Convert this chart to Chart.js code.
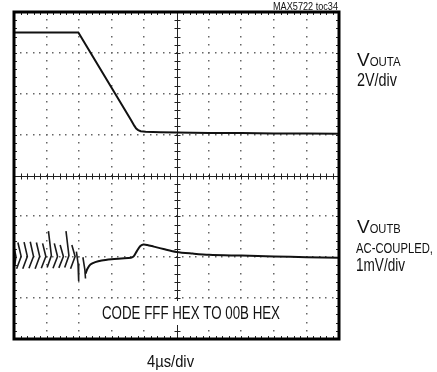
<!DOCTYPE html>
<html>
<head>
<meta charset="utf-8">
<script src="https://cdn.jsdelivr.net/npm/chart.js@4/dist/chart.umd.min.js"></script>
<style>
  html, body { margin: 0; padding: 0; background: #fff; }
  #wrap { width: 437px; height: 372px; }
</style>
</head>
<body>
<div id="wrap"><canvas id="scope" width="437" height="372"></canvas></div>
<script>
// time in divisions (4us/div), voltage in divisions from the bottom of the screen
var outaX = [0, 1.98, 3.6, 3.7, 3.76, 3.82, 3.9, 4.05, 4.5, 5, 6, 7, 8, 9, 10];
var outaY = [7.5, 7.5, 5.36, 5.22, 5.15, 5.11, 5.085, 5.07, 5.06, 5.05, 5.04, 5.04, 5.03, 5.03, 5.02];

// ringing on VOUTB while the code changes (null = gap between strokes)
var noiseX = [0.0, 0.06, 0.02, null,
  0.12, 0.22, 0.08, null,
  0.31, 0.41, 0.27, null,
  0.5, 0.6, 0.46, null,
  0.69, 0.79, 0.65, null,
  0.88, 0.98, 0.84, null,
  1.06, 1.15, 1.02, null,
  1.24, 1.34, 1.2, null,
  1.42, 1.52, 1.38, null,
  1.6, 1.69, 1.56, null,
  1.78, 1.88, 1.74, null,
  1.92, 1.97, 1.99, null,
  2.12, 2.18, 2.2];
var noiseY = [2.25, 2.02, 1.78, null,
  2.36, 2.02, 1.72, null,
  2.37, 2.02, 1.72, null,
  2.38, 2.02, 1.73, null,
  2.36, 2.02, 1.72, null,
  2.34, 2.02, 1.73, null,
  2.64, 2.04, 1.75, null,
  2.34, 2.02, 1.73, null,
  2.3, 2.02, 1.74, null,
  2.64, 2.04, 1.75, null,
  2.3, 2.02, 1.72, null,
  2.14, 1.85, 1.42, null,
  2.0, 1.7, 1.48];

var settleX = [2.2, 2.26, 2.35, 2.5, 2.7, 3.0, 3.3, 3.6, 3.68, 3.78, 3.88, 3.98, 4.1, 4.3, 4.6, 5.0, 5.5, 6.0, 7.0, 8.0, 9.0, 10.0];
var settleY = [1.6, 1.72, 1.82, 1.88, 1.92, 1.95, 1.97, 1.99, 2.02, 2.15, 2.27, 2.31, 2.3, 2.26, 2.2, 2.13, 2.09, 2.06, 2.04, 2.02, 2.0, 1.99];

function pts(xs, ys) {
  return xs.map(function (x, i) { return { x: x === null ? NaN : x, y: ys[i] === null ? NaN : ys[i] }; });
}

var NARROW = '"Liberation Sans Narrow", "Arial Narrow", "Liberation Sans", Arial, sans-serif';

// text drawn with a horizontal squeeze so it fits the width of the original lettering
function label(ctx, text, x, base, size, width) {
  ctx.save();
  ctx.font = size + 'px ' + NARROW;
  var w = ctx.measureText(text).width;
  var sx = width ? width / w : 1;
  ctx.translate(x, base);
  ctx.scale(sx, 1);
  ctx.fillStyle = '#111';
  ctx.textBaseline = 'alphabetic';
  ctx.fillText(text, 0, 0);
  ctx.restore();
  return w * sx;
}

var scopeScreen = {
  id: 'scopeScreen',
  beforeDatasetsDraw: function (chart) {
    var ctx = chart.ctx, xs = chart.scales.x, ys = chart.scales.y;
    var i, j, px, py;
    ctx.save();
    ctx.fillStyle = '#666';
    // dotted graticule
    for (j = 1; j < 8; j++) {
      if (j === 4) continue;
      py = Math.round(ys.getPixelForValue(j));
      for (i = 0; i <= 50; i++) {
        px = xs.getPixelForValue(i * 0.2);
        ctx.fillRect(Math.round(px) - 1, py - 1, 1.5, 1.5);
      }
    }
    for (i = 1; i < 10; i++) {
      if (i === 5) continue;
      px = Math.round(xs.getPixelForValue(i));
      for (j = 0; j <= 40; j++) {
        py = ys.getPixelForValue(j * 0.2);
        ctx.fillRect(px - 1, Math.round(py) - 1, 1.5, 1.5);
      }
    }
    // centre cross with minor ticks
    ctx.strokeStyle = '#222';
    ctx.lineWidth = 1;
    var cx = Math.round(xs.getPixelForValue(5)) + 0.5;
    var cy = Math.round(ys.getPixelForValue(4)) + 0.5;
    ctx.beginPath();
    ctx.moveTo(xs.left, cy); ctx.lineTo(xs.right, cy);
    ctx.moveTo(cx, ys.top); ctx.lineTo(cx, ys.bottom);
    for (i = 0; i <= 50; i++) {
      px = Math.round(xs.getPixelForValue(i * 0.2)) + 0.5;
      ctx.moveTo(px, cy - 3); ctx.lineTo(px, cy + 3);
      ctx.moveTo(px, ys.top); ctx.lineTo(px, ys.top + 3);
      ctx.moveTo(px, ys.bottom); ctx.lineTo(px, ys.bottom - 3);
    }
    for (j = 0; j <= 40; j++) {
      py = Math.round(ys.getPixelForValue(j * 0.2)) + 0.5;
      ctx.moveTo(cx - 3, py); ctx.lineTo(cx + 3, py);
      ctx.moveTo(xs.left, py); ctx.lineTo(xs.left + 3, py);
      ctx.moveTo(xs.right, py); ctx.lineTo(xs.right - 3, py);
    }
    ctx.stroke();
    // blank patch behind the caption
    ctx.fillStyle = '#fff';
    ctx.fillRect(99, 301, 184, 24);
    ctx.restore();
  },
  afterDatasetsDraw: function (chart) {
    var ctx = chart.ctx, a = chart.chartArea;
    ctx.save();
    ctx.strokeStyle = '#000';
    ctx.lineWidth = 3;
    ctx.strokeRect(a.left, a.top, a.right - a.left, a.bottom - a.top);
    ctx.restore();

    label(ctx, 'MAX5722 toc34', 273, 9.5, 10.5, 65);
    var w = label(ctx, 'V', 357, 65.7, 19, 0);
    label(ctx, 'OUTA', 357 + w, 65.7, 12.5, 31);
    label(ctx, '2V/div', 357, 86, 18, 40);
    w = label(ctx, 'V', 357, 233.3, 19, 0);
    label(ctx, 'OUTB', 357 + w, 233.3, 12.5, 31);
    label(ctx, 'AC-COUPLED,', 356, 252.7, 15, 77);
    label(ctx, '1mV/div', 356, 270.7, 17.5, 49);
    label(ctx, 'CODE FFF HEX TO 00B HEX', 102, 319.3, 17.5, 178);
    label(ctx, '4\u00b5s/div', 147, 366.7, 17, 47);
  }
};

var ctx = document.getElementById('scope');

new Chart(ctx, {
  type: 'scatter',
  data: {
    datasets: [{
      label: 'VOUTA',
      data: pts(outaX, outaY),
      showLine: true,
      borderColor: '#111',
      borderWidth: 2,
      pointRadius: 0,
      tension: 0
    }, {
      label: 'VOUTB ringing',
      data: pts(noiseX, noiseY),
      showLine: true,
      spanGaps: false,
      borderColor: '#1a1a1a',
      borderWidth: 1.6,
      pointRadius: 0,
      tension: 0
    }, {
      label: 'VOUTB',
      data: pts(settleX, settleY),
      showLine: true,
      borderColor: '#111',
      borderWidth: 2,
      pointRadius: 0,
      tension: 0.3
    }]
  },
  options: {
    responsive: false,
    animation: false,
    layout: { padding: { left: 14, top: 12, right: 98, bottom: 33 } },
    scales: {
      x: { type: 'linear', min: 0, max: 10, display: false },
      y: { type: 'linear', min: 0, max: 8, display: false }
    },
    plugins: {
      legend: { display: false },
      tooltip: { enabled: false }
    }
  },
  plugins: [scopeScreen]
});
</script>
</body>
</html>
